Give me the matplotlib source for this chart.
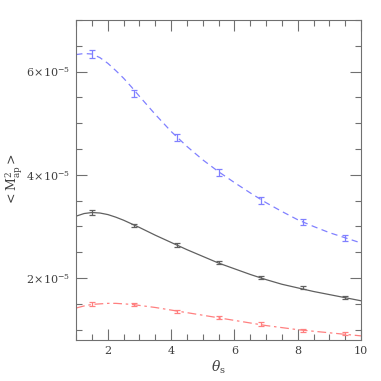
import numpy as np
import matplotlib
matplotlib.use('Agg')
import matplotlib.pyplot as plt
from matplotlib.ticker import MultipleLocator, FuncFormatter

# model curves (units of 1e-5)
theta_curve = [1.0, 1.25, 1.5, 1.75, 2.0, 2.25, 2.5, 2.75, 3.0, 3.5, 4.0, 4.5,
               5.0, 5.5, 6.0, 6.5, 7.0, 7.5, 8.0, 8.5, 9.0, 9.5, 10.0]
blue_curve = [6.33, 6.35, 6.34, 6.27, 6.16, 6.02, 5.87, 5.70, 5.52, 5.17, 4.84, 4.55,
              4.29, 4.06, 3.85, 3.65, 3.46, 3.29, 3.13, 3.00, 2.88, 2.78, 2.68]
black_curve = [3.20, 3.25, 3.27, 3.26, 3.23, 3.18, 3.12, 3.05, 2.98, 2.83, 2.69, 2.55,
               2.42, 2.29, 2.18, 2.07, 1.97, 1.88, 1.81, 1.74, 1.68, 1.62, 1.56]
red_curve = [1.42, 1.46, 1.49, 1.50, 1.51, 1.51, 1.50, 1.49, 1.47, 1.43, 1.38, 1.33,
             1.28, 1.23, 1.18, 1.13, 1.08, 1.04, 1.00, 0.97, 0.94, 0.91, 0.88]

# measured points with error bars
theta_pts = [1.5, 2.83, 4.17, 5.5, 6.83, 8.17, 9.5]
blue_pts = [6.34, 5.58, 4.72, 4.04, 3.50, 3.09, 2.78]
blue_err = [0.08, 0.07, 0.07, 0.07, 0.07, 0.06, 0.06]
black_pts = [3.27, 3.01, 2.64, 2.30, 2.01, 1.81, 1.63]
black_err = [0.04, 0.03, 0.03, 0.03, 0.03, 0.03, 0.03]
red_pts = [1.49, 1.48, 1.35, 1.24, 1.11, 0.99, 0.92]
red_err = [0.04, 0.03, 0.03, 0.03, 0.03, 0.03, 0.03]

plt.rcParams['font.family'] = ['DejaVu Serif']
plt.rcParams['mathtext.fontset'] = 'dejavuserif'

fig = plt.figure(figsize=(3.81, 3.81), dpi=100)
ax = fig.add_axes([0.2, 0.1076, 0.7475, 0.84])

c_blue = '#8080ff'
c_black = '#606060'
c_red = '#ff8080'
scale = 1e-5

ax.plot(theta_curve, np.array(blue_curve) * scale, color=c_blue, lw=0.9, ls=(0, (5, 3.5)))
ax.plot(theta_curve, np.array(black_curve) * scale, color=c_black, lw=0.9, ls='-')
ax.plot(theta_curve, np.array(red_curve) * scale, color=c_red, lw=0.9, ls=(0, (7, 3, 2, 3)))

for y, e, c in [(blue_pts, blue_err, c_blue), (black_pts, black_err, c_black), (red_pts, red_err, c_red)]:
    ax.errorbar(theta_pts, np.array(y) * scale, yerr=np.array(e) * scale, fmt='none',
                ecolor=c, elinewidth=0.9, capsize=2.5, capthick=0.9)

ax.set_xlim(1, 10)
ax.set_ylim(0.8e-5, 7.0e-5)
ax.xaxis.set_major_locator(MultipleLocator(2))
ax.xaxis.set_minor_locator(MultipleLocator(0.5))
ax.yaxis.set_major_locator(MultipleLocator(2e-5))
ax.yaxis.set_minor_locator(MultipleLocator(0.5e-5))


def yfmt(v, pos):
    m = v / 1e-5
    return r'$%d\!\times\!10^{-5}$' % round(m)


ax.yaxis.set_major_formatter(FuncFormatter(yfmt))
ax.tick_params(which='both', direction='in', top=True, right=True, color='#707070',
               labelsize=8, labelcolor='#404040')
ax.tick_params(which='major', length=8, width=0.8, pad=4)
ax.tick_params(which='minor', length=4, width=0.8)
for s in ax.spines.values():
    s.set_color('#707070')
    s.set_linewidth(0.8)

ax.set_xlabel(r'$\theta_{\rm s}$', fontsize=10, color='#404040', labelpad=2)
ax.set_ylabel(r'$<\mathrm{M}^2_{\rm ap}>$', fontsize=9, color='#404040', labelpad=1)

fig.savefig('out.png', dpi=100)
